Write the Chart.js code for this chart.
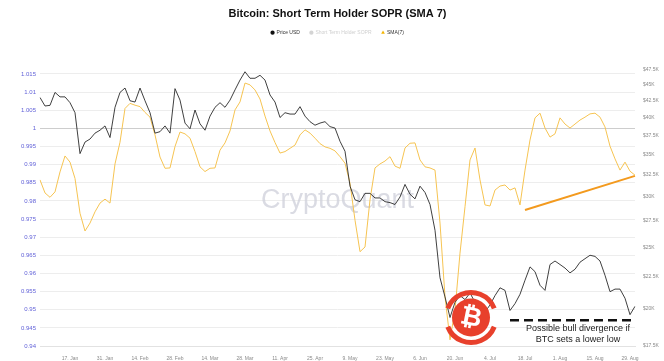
<!DOCTYPE html>
<html lang="en">
<head>
<meta charset="UTF-8">
<title>Bitcoin: Short Term Holder SOPR (SMA 7)</title>
<style>
  html, body { margin: 0; padding: 0; background: #fff; }
  #wrap { width: 664px; height: 361px; }
</style>
</head>
<body>
<div id="wrap"><canvas id="myChart"></canvas></div>
<script src="https://cdn.jsdelivr.net/npm/chart.js@4.4.1/dist/chart.umd.min.js"></script>
<script>
const FONT = "'Liberation Sans', Arial, sans-serif";

// one point every two days, 5 Jan 2022 .. 31 Aug 2022
const monthNames = ['Jan','Feb','Mar','Apr','May','Jun','Jul','Aug','Sep','Oct','Nov','Dec'];
const labels = [];
for (let d = new Date(Date.UTC(2022, 0, 5)); d <= new Date(Date.UTC(2022, 7, 31)); d.setUTCDate(d.getUTCDate() + 2)) {
  labels.push(d.getUTCDate() + '. ' + monthNames[d.getUTCMonth()]);
}

const tickLabels = ['17. Jan','31. Jan','14. Feb','28. Feb','14. Mar','28. Mar','11. Apr','25. Apr',
  '9. May','23. May','6. Jun','20. Jun','4. Jul','18. Jul','1. Aug','15. Aug','29. Aug'];
const leftTicks = [0.94,0.945,0.95,0.955,0.96,0.965,0.97,0.975,0.98,0.985,0.99,0.995,1,1.005,1.01,1.015];
const rightTicks = [17500,20000,22500,25000,27500,30000,32500,35000,37500,40000,42500,45000,47500];

const priceUsd = [
  43000,41700,41800,43800,43100,43100,42200,40700,35100,36600,
  37000,37800,38200,38800,37200,41500,43800,44500,42500,42300,
  44500,42500,40700,37800,38000,38800,37800,44400,42600,39200,
  38400,41100,39100,38200,40200,41500,42200,41500,42600,44200,
  45800,47200,46100,46100,46600,45800,43400,42300,40000,40700,
  40500,40500,41600,40200,39400,38900,39200,39400,38700,38500,
  36700,35400,31200,29700,29500,30400,30400,29900,29900,29500,
  29400,29200,30000,31400,30300,29800,31200,30500,29200,26600,
  22400,20900,19400,20500,21000,20700,21200,20500,20300,19800,
  20300,21000,21600,21400,19900,20400,21100,22200,23300,22900,
  21800,21400,23500,23800,23500,23200,22800,23100,23700,24000,
  24300,24200,23800,22600,21300,21500,21500,20800,19600,20200
];

const sma7 = [
  0.9858,0.9822,0.9810,0.9825,0.9880,0.9924,0.9907,0.9862,0.9766,0.9717,
  0.9739,0.9770,0.9794,0.9805,0.9794,0.9902,0.9962,1.0055,1.0069,1.0064,
  1.0060,1.0044,1.0031,0.9982,0.9921,0.9890,0.9891,0.9950,0.9990,0.9985,
  0.9973,0.9936,0.9894,0.9881,0.9890,0.9891,0.9940,0.9960,0.9993,1.0051,
  1.0073,1.0125,1.0120,1.0106,1.0081,1.0034,0.9993,0.9961,0.9932,0.9936,
  0.9945,0.9954,0.9982,0.9996,0.9987,0.9973,0.9958,0.9949,0.9945,0.9938,
  0.9922,0.9904,0.9849,0.9747,0.9660,0.9673,0.9803,0.9891,0.9902,0.9910,
  0.9922,0.9896,0.9890,0.9946,0.9959,0.9960,0.9913,0.9894,0.9891,0.9885,
  0.9739,0.9536,0.9417,0.9499,0.9656,0.9784,0.9913,0.9946,0.9858,0.9789,
  0.9786,0.9830,0.9841,0.9844,0.9830,0.9836,0.9789,0.9885,0.9968,1.0029,
  1.0042,1.0001,0.9976,0.9985,1.0029,1.0012,1.0001,1.0012,1.0023,1.0031,
  1.0040,1.0042,1.0031,1.0004,0.9951,0.9916,0.9885,0.9907,0.9882,0.9871
];

// hand-drawn annotations from the picture
const trendDates = ['18. Jul', '31. Aug'];
const trendValues = [0.9775, 0.9869];
const lowDates = ['12. Jul', '31. Aug'];
const lowValue = 19200;

function sparse(dates, values) {
  const out = labels.map(() => null);
  dates.forEach((d, i) => { out[labels.indexOf(d)] = values[i]; });
  return out;
}

const overlay = {
  id: 'overlay',
  beforeDatasetsDraw(chart) {
    const {ctx, chartArea: a} = chart;
    ctx.save();
    ctx.fillStyle = 'rgba(205,207,217,0.75)';
    ctx.font = "27px 'Liberation Sans', Arial, sans-serif";
    ctx.textAlign = 'center';
    ctx.textBaseline = 'middle';
    ctx.fillText('CryptoQuant', (a.left + a.right) / 2, (a.top + a.bottom) / 2 - 7);
    ctx.restore();
  },
  afterDatasetsDraw(chart) {
    const {ctx} = chart;
    const x = chart.scales.x, p = chart.scales.y1;
    // site logo
    const cx = x.getPixelForValue(labels.indexOf('28. Jun')) - 4;
    const cy = p.getPixelForValue(19400);
    ctx.save();
    ctx.fillStyle = '#e8402c';
    ctx.strokeStyle = '#e8402c';
    ctx.beginPath(); ctx.arc(cx, cy, 19, 0, Math.PI * 2); ctx.fill();
    ctx.lineWidth = 5;
    ctx.beginPath(); ctx.arc(cx, cy, 25, Math.PI * 1.12, Math.PI * 1.88); ctx.stroke();
    ctx.beginPath(); ctx.arc(cx, cy, 25, Math.PI * 0.12, Math.PI * 0.88); ctx.stroke();
    ctx.fillStyle = '#fff';
    ctx.font = "bold 26px 'DejaVu Sans', sans-serif";
    ctx.textAlign = 'center'; ctx.textBaseline = 'middle';
    ctx.translate(cx, cy + 1); ctx.rotate(0.2);
    ctx.fillText('\u20BF', 0, 0);
    ctx.restore();
    // note
    ctx.save();
    ctx.fillStyle = '#222';
    ctx.font = "9px " + FONT;
    ctx.textAlign = 'center'; ctx.textBaseline = 'middle';
    const tx = x.getPixelForValue(labels.indexOf('9. Aug')) - 2;
    ctx.fillText('Possible bull divergence if', tx, p.getPixelForValue(18650));
    ctx.fillText('BTC sets a lower low', tx, p.getPixelForValue(17900));
    ctx.restore();
  }
};

const ctx = document.getElementById('myChart').getContext('2d');
new Chart(ctx, {
  type: 'line',
  plugins: [overlay],
  data: {
    labels: labels,
    datasets: [
      { label: 'Price USD', data: priceUsd, yAxisID: 'y1', borderColor: '#2a2a2a', borderWidth: 0.9,
        legendColor: '#111', legendText: '#333', legendStyle: 'circle' },
      { label: 'Short Term Holder SOPR', data: [], yAxisID: 'y', hidden: true, borderColor: '#ccc',
        legendColor: '#d4d4d4', legendText: '#cfcfcf', legendStyle: 'circle' },
      { label: 'SMA(7)', data: sma7, yAxisID: 'y', borderColor: '#f6c452', borderWidth: 1,
        legendColor: '#f4b400', legendText: '#333', legendStyle: 'triangle' },
      { label: 'trend', data: sparse(trendDates, trendValues), yAxisID: 'y', spanGaps: true,
        borderColor: '#f39a1e', borderWidth: 2 },
      { label: 'low', data: sparse(lowDates, [lowValue, lowValue]), yAxisID: 'y1', spanGaps: true,
        borderColor: '#111', borderWidth: 2.5, borderDash: [9, 5] }
    ]
  },
  options: {
    responsive: true,
    maintainAspectRatio: false,
    animation: false,
    devicePixelRatio: 1,
    elements: { point: { radius: 0 }, line: { tension: 0 } },
    layout: { padding: 0 },
    plugins: {
      tooltip: { enabled: false },
      title: {
        display: true, fullSize: false,
        text: 'Bitcoin: Short Term Holder SOPR (SMA 7)',
        color: '#111',
        font: { family: FONT, size: 11, weight: 'bold' },
        padding: { top: 7, bottom: 0 }
      },
      subtitle: {
        // empty spacer between legend and plot
        display: true, fullSize: false, text: ' ',
        font: { size: 1 },
        padding: { top: 0, bottom: 23.6 }
      },
      legend: {
        fullSize: false,
        weight: 1800,
        labels: {
          usePointStyle: true, boxWidth: 3, boxHeight: 3, padding: 10,
          font: { family: FONT, size: 5 },
          filter: item => item.datasetIndex < 3,
          generateLabels(chart) {
            const items = Chart.defaults.plugins.legend.labels.generateLabels(chart);
            items.forEach(it => {
              const ds = chart.data.datasets[it.datasetIndex];
              it.pointStyle = ds.legendStyle;
              it.fillStyle = ds.legendColor;
              it.strokeStyle = ds.legendColor;
              it.fontColor = ds.legendText;
              it.lineWidth = 0;
              it.hidden = false;
            });
            return items;
          }
        }
      }
    },
    scales: {
      x: {
        type: 'category',
        afterFit(s) { s.height = 15; },
        grid: { display: false },
        border: { display: true, color: '#e2e2e2' },
        ticks: {
          autoSkip: false, maxRotation: 0, minRotation: 0, padding: 2,
          color: '#8a8a8a', font: { family: FONT, size: 5 },
          callback(v) { const l = this.getLabelForValue(v); return tickLabels.includes(l) ? l : null; }
        }
      },
      y: {
        position: 'left', min: 0.94, max: 1.0161,
        afterBuildTicks(s) { s.ticks = leftTicks.map(v => ({ value: v })); },
        afterFit(s) { s.width = 40; },
        grid: {
          drawTicks: false,
          color: c => (c.tick && Math.abs(c.tick.value - 1) < 1e-9) ? '#cdcdcd' : '#ededed'
        },
        border: { display: false },
        ticks: {
          padding: 4, color: '#6262d8', font: { family: FONT, size: 6 },
          callback: v => String(+v.toFixed(3))
        }
      },
      y1: {
        type: 'logarithmic', position: 'right', min: 17500, max: 47500,
        afterBuildTicks(s) { s.ticks = rightTicks.map(v => ({ value: v })); },
        afterFit(s) { s.width = 29; },
        grid: { display: false, drawTicks: false },
        border: { display: false },
        ticks: {
          autoSkip: false, padding: 8, color: '#8a8a8a', font: { family: FONT, size: 5 },
          callback: v => '$' + (v / 1000) + 'K'
        }
      }
    }
  }
});
</script>
</body>
</html>
